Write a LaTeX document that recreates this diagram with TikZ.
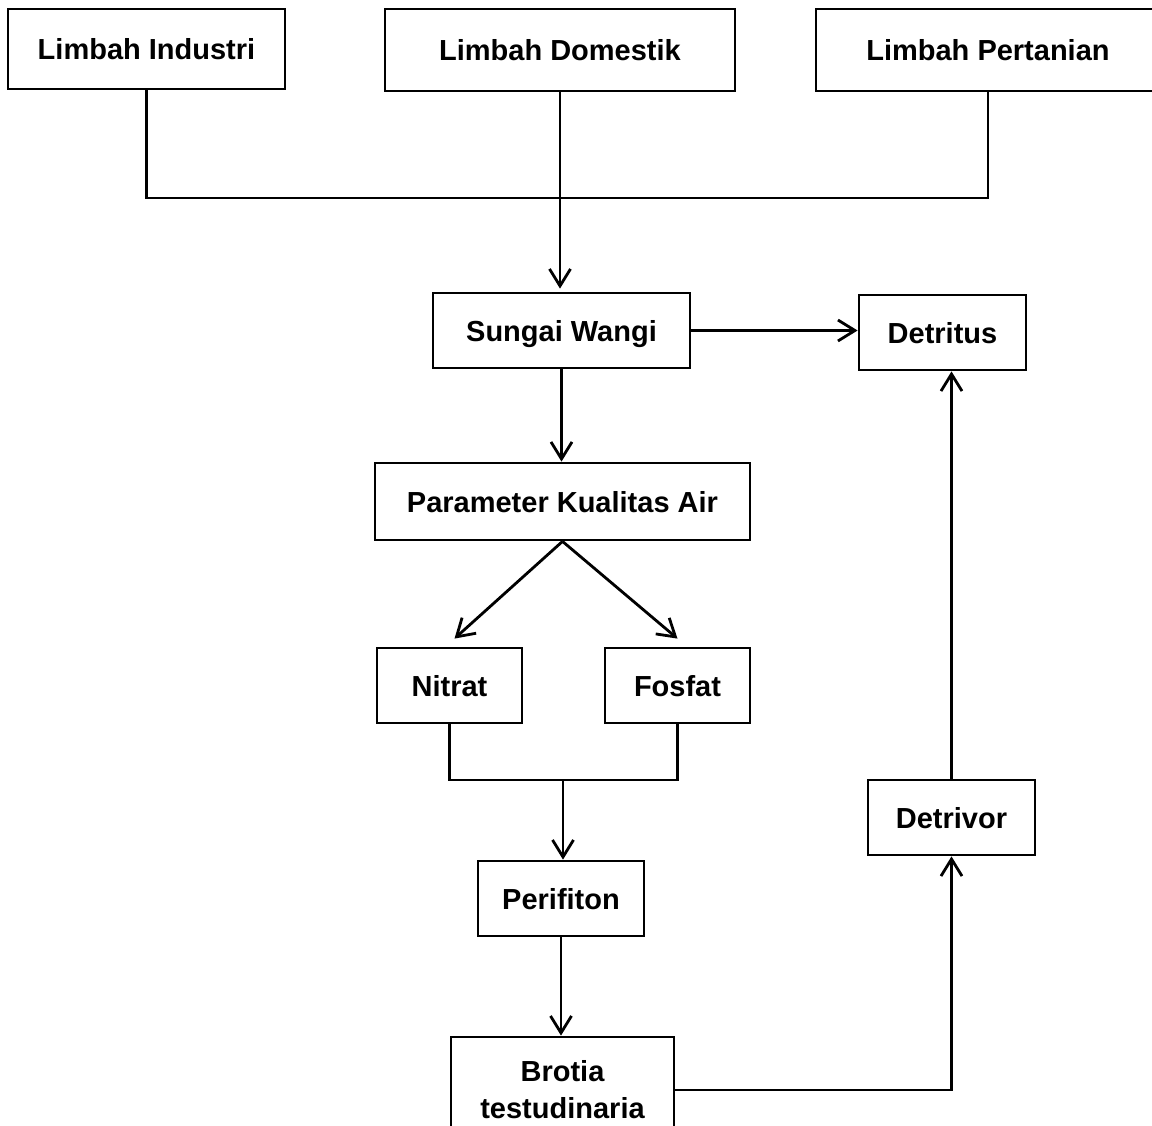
\documentclass[tikz,border=0pt]{standalone}
\usepackage{fontspec}
\setmainfont{Liberation Sans}
\usetikzlibrary{arrows.meta}

\begin{document}
\begin{tikzpicture}[x=1pt,y=-1pt,line width=2.8pt,
  every node/.style={align=center},
  dasar/.style={draw,inner sep=0pt,font=\bfseries\fontsize{29}{37}\selectfont},
  kotak/.style={dasar,text height=22pt,text depth=0pt},
  panah/.style={-{Straight Barb[length=17pt,width=21pt]}}]
\clip (0,0) rectangle (1152,1126);
\node[kotak,minimum width=277,minimum height=80] (ind) at (146.5,49) {Limbah Industri};
\node[kotak,minimum width=350,minimum height=82] (dom) at (560,50) {Limbah Domestik};
\node[kotak,minimum width=344,minimum height=82] (pert) at (988,50) {Limbah Pertanian};
\node[kotak,minimum width=257,minimum height=75] (sungai) at (561.5,330.5) {Sungai Wangi};
\node[kotak,minimum width=167,minimum height=75] (detritus) at (942.5,332.5) {Detritus};
\node[kotak,minimum width=375,minimum height=77] (param) at (562.5,501.5) {Parameter Kualitas Air};
\node[kotak,minimum width=145,minimum height=75] (nitrat) at (449.5,685.5) {Nitrat};
\node[kotak,minimum width=145,minimum height=75] (fosfat) at (677.5,685.5) {Fosfat};
\node[kotak,minimum width=166,minimum height=75] (perif) at (561,898.5) {Perifiton};
\node[dasar,minimum width=223,minimum height=106] (brotia) at (562.5,1090) {Brotia\\testudinaria};
\node[kotak,minimum width=167,minimum height=75] (detrivor) at (951.5,817.5) {Detrivor};
\coordinate (gabung1) at (561,198);
\coordinate (gabung2) at (563,780);
\draw (ind.south) |- (gabung1) -| (pert.south);
\draw[panah] (dom.south) -- ([yshift=3]dom.south |- sungai.north);
\draw[panah] (sungai.east) -- (sungai.east -| detritus.west);
\draw[panah] (sungai.south) -- (sungai.south |- param.north);
\draw[panah] (param.south) -- ([xshift=5,yshift=8]nitrat.north);
\draw[panah] (param.south) -- ([yshift=8]fosfat.north);
\draw (nitrat.south) |- (gabung2) -| (fosfat.south);
\draw[panah] (gabung2) -- (gabung2 |- perif.north);
\draw[panah] (perif.south) -- (perif.south |- brotia.north);
\draw[panah] (brotia.east) -| (detrivor.south);
\draw[panah] (detrivor.north) -- (detrivor.north |- detritus.south);
\end{tikzpicture}
\end{document}
